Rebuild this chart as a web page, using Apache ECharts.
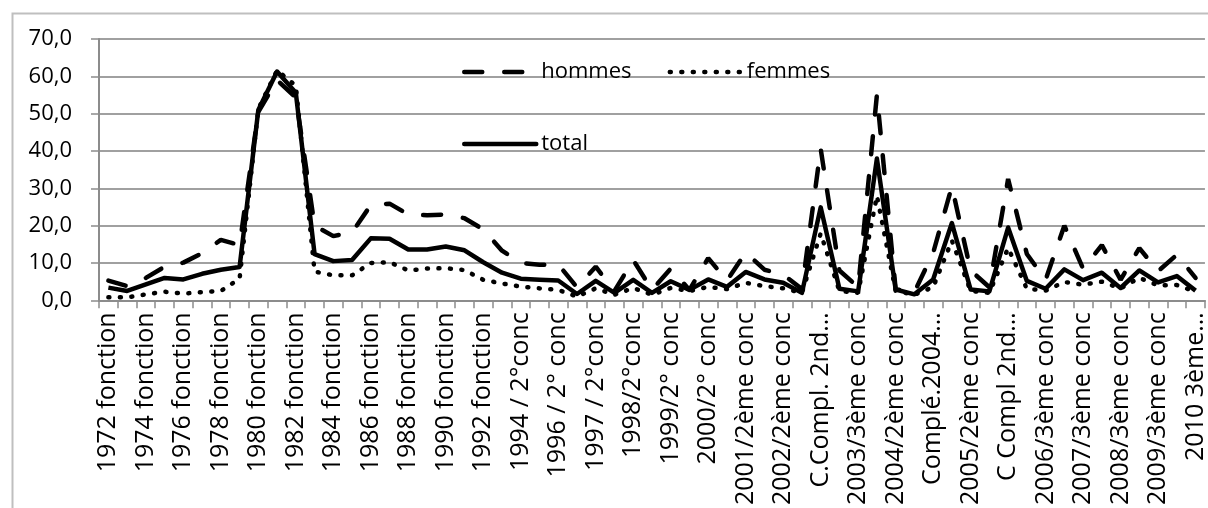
<!DOCTYPE html>
<html>
<head>
<meta charset="utf-8">
<script src="https://cdn.jsdelivr.net/npm/echarts@6/dist/echarts.min.js"></script>
<style>
  html, body { margin: 0; padding: 0; background: #fff; }
  #main { width: 1208px; height: 508px; }
</style>
</head>
<body>
<div id="main"></div>
<script>
// categories (only every other label is shown on the axis)
var categories = [
  "1972 fonction", "1973 fonction", "1974 fonction", "1975 fonction",
  "1976 fonction", "1977 fonction", "1978 fonction", "1979 fonction",
  "1980 fonction", "1981 fonction", "1982 fonction", "1983 fonction",
  "1984 fonction", "1985 fonction", "1986 fonction", "1987 fonction",
  "1988 fonction", "1989 fonction", "1990 fonction", "1991 fonction",
  "1992 fonction", "1993 fonction", "1994 / 2°conc", "1995 / 2°conc",
  "1996 / 2° conc", "1996 / 3° conc", "1997 / 2°conc", "1997 / 3°conc",
  "1998/2°conc", "1998/3°conc", "1999/2° conc", "1999/3° conc",
  "2000/2° conc", "2000/3° conc", "2001/2ème conc", "2001/3ème conc",
  "2002/2ème conc", "2002/3ème conc", "C.Compl. 2nd…", "2003/2ème conc",
  "2003/3ème conc", "C.Compl. 2003…", "2004/2ème conc", "2004/3ème conc",
  "Complé.2004…", "C.Compl. 2004…", "2005/2ème conc", "2005/3ème conc",
  "C Compl 2nd…", "C Compl 3ème…", "2006/3ème conc", "2007/2ème conc",
  "2007/3ème conc", "2008/2ème conc", "2008/3ème conc", "2009/2ème conc",
  "2009/3ème conc", "2010 2ème conc", "2010 3ème…"
];

var hommes = [
  5.3, 3.8, 6.0, 9.0, 10.1, 12.6, 16.2, 14.8, 50.5, 59.0,
  54.3, 20.0, 17.2, 18.2, 25.5, 25.9, 23.0, 22.8, 23.0, 22.0,
  19.0, 13.3, 10.0, 9.5, 9.6, 3.5, 9.0, 2.5, 10.8, 2.8,
  8.5, 2.8, 11.3, 5.3, 12.8, 8.2, 6.9, 3.0, 40.6, 8.0,
  3.5, 55.0, 3.0, 2.2, 12.7, 30.5, 8.0, 3.5, 32.5, 12.4,
  5.5, 20.0, 8.5, 14.8, 5.5, 14.0, 7.8, 12.2, 6.0
];

var femmes = [
  0.8, 0.8, 1.6, 2.3, 1.8, 2.2, 2.5, 5.8, 51.3, 61.6,
  57.5, 7.7, 6.7, 6.7, 10.0, 10.2, 8.0, 8.5, 8.6, 8.1,
  5.5, 4.5, 3.7, 3.2, 2.8, 1.0, 3.2, 1.5, 3.3, 1.5,
  3.3, 2.5, 3.6, 3.0, 4.7, 3.8, 3.2, 2.0, 17.9, 2.5,
  2.0, 28.0, 2.5, 1.5, 3.5, 16.0, 2.5, 2.0, 14.0, 3.1,
  2.6, 4.9, 4.2, 5.0, 3.2, 6.0, 4.0, 4.1, 2.3
];

var total = [
  3.4, 2.5, 4.3, 6.0, 5.6, 7.1, 8.2, 8.9, 51.0, 61.3,
  55.6, 12.4, 10.5, 10.8, 16.6, 16.5, 13.6, 13.6, 14.4, 13.4,
  10.2, 7.4, 5.8, 5.5, 5.3, 1.7, 5.2, 2.0, 5.5, 2.0,
  5.1, 2.8, 5.6, 3.6, 7.6, 5.6, 4.7, 2.0, 24.9, 3.1,
  2.4, 38.0, 2.9, 1.6, 5.6, 20.7, 2.9, 2.4, 19.5, 5.2,
  3.1, 8.3, 5.4, 7.4, 3.3, 8.0, 4.8, 6.5, 2.6
];

var yTicks = { min: 0, max: 70, interval: 10 };

var FONT = "Open Sans";
var myChart = echarts.init(document.getElementById("main"));

// legend: line only, no circle marker
var legendBase = {
  itemWidth: 72,
  itemHeight: 14,
  itemStyle: { opacity: 0 },
  lineStyle: { width: 4.5, cap: "round" },
  textStyle: { fontFamily: FONT, fontSize: 22, color: "#000" }
};

var option = {
  backgroundColor: "#fff",
  animation: false,
  textStyle: { fontFamily: FONT, color: "#000" },
  graphic: [
    {
      type: "rect",
      left: 10,
      top: 11,
      shape: { width: 1400, height: 700 },
      style: { fill: "none", stroke: "#bfbfbf", lineWidth: 2 },
      silent: true
    }
  ],
  legend: [
    Object.assign({}, legendBase, {
      data: ["hommes", "femmes"],
      left: 457,
      top: 56,
      itemGap: 36
    }),
    Object.assign({}, legendBase, {
      data: ["total"],
      left: 457,
      top: 128
    })
  ],
  grid: {
    left: 99,
    right: -4,
    top: 39,
    bottom: 202
  },
  xAxis: {
    type: "category",
    data: categories,
    boundaryGap: true,
    axisLine: { lineStyle: { color: "#8c8c8c", width: 2 } },
    axisTick: { show: true, interval: 0, length: 8, lineStyle: { color: "#8c8c8c", width: 1.5 } },
    axisLabel: {
      interval: 1,
      rotate: 90,
      margin: 12,
      fontFamily: FONT,
      fontSize: 25,
      color: "#000"
    },
    splitLine: { show: false }
  },
  yAxis: {
    type: "value",
    min: yTicks.min,
    max: yTicks.max,
    interval: yTicks.interval,
    axisLine: { show: true, lineStyle: { color: "#8c8c8c", width: 2 } },
    axisTick: { show: true, length: 8, lineStyle: { color: "#8c8c8c", width: 1.5 } },
    axisLabel: {
      margin: 27,
      fontFamily: FONT,
      fontSize: 22,
      color: "#000",
      formatter: function (v) {
        return v.toFixed(1).replace(".", ",");
      }
    },
    splitLine: { lineStyle: { color: "#a0a0a0", width: 2 } }
  },
  series: [
    {
      name: "hommes",
      type: "line",
      data: hommes,
      symbol: "none",
      lineStyle: { color: "#000", width: 4.5, type: [18, 22], cap: "round" },
      itemStyle: { color: "#000" }
    },
    {
      name: "femmes",
      type: "line",
      data: femmes,
      symbol: "none",
      lineStyle: { color: "#000", width: 4.5, type: [1, 10.5], cap: "round" },
      itemStyle: { color: "#000" }
    },
    {
      name: "total",
      type: "line",
      data: total,
      symbol: "none",
      lineStyle: { color: "#000", width: 4.5, type: "solid", join: "round" },
      itemStyle: { color: "#000" }
    }
  ]
};

myChart.setOption(option);
</script>
</body>
</html>
